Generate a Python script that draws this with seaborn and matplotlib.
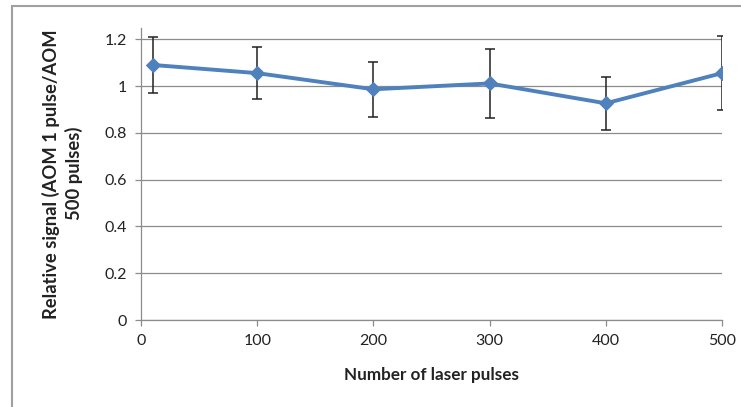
import matplotlib
matplotlib.use("Agg")
import matplotlib.pyplot as plt
import seaborn as sns
import pandas as pd
import numpy as np
from matplotlib.patches import Rectangle

pulses = [10, 100, 200, 300, 400, 500]
signal = [1.09, 1.055, 0.986, 1.011, 0.926, 1.055]
err_upper = [1.21, 1.167, 1.101, 1.157, 1.038, 1.213]
err_lower = [0.969, 0.944, 0.869, 0.862, 0.812, 0.897]
x_ticks = [0, 100, 200, 300, 400, 500]
y_ticks = [0, 0.2, 0.4, 0.6, 0.8, 1, 1.2]
y_tick_labels = ["0", "0.2", "0.4", "0.6", "0.8", "1", "1.2"]

sns.set_theme(style="white")
plt.rcParams['font.family'] = ['Lato', 'DejaVu Sans']

df = pd.DataFrame({"pulses": pulses, "signal": signal})

fig = plt.figure(figsize=(7.41, 4.07), dpi=100)
ax = fig.add_axes([141/741, 87/407, (722-141)/741, (379.5-87)/407])

blue = "#4F81BD"
sig = np.array(signal)
yerr = np.vstack([sig - np.array(err_lower), np.array(err_upper) - sig])
ax.errorbar(pulses, signal, yerr=yerr, fmt="none", ecolor="#222222",
            elinewidth=1.1, capsize=3.5, capthick=1.1, zorder=3)
sns.lineplot(data=df, x="pulses", y="signal", ax=ax, color=blue, linewidth=2.8,
             marker="D", markersize=7.5, markeredgecolor=blue, zorder=4)

ax.set_xlim(0, 500)
ax.set_ylim(0, 1.25)
ax.set_xticks(x_ticks)
ax.set_xticklabels([str(v) for v in x_ticks])
ax.set_yticks(y_ticks)
ax.set_yticklabels(y_tick_labels)
ax.grid(axis="y", color="#8c8c8c", linewidth=0.9)
ax.grid(axis="x", visible=False)
ax.set_axisbelow(True)

for s in ["top", "right"]:
    ax.spines[s].set_visible(False)
for s in ["left", "bottom"]:
    ax.spines[s].set_color("#8c8c8c")
    ax.spines[s].set_linewidth(0.9)

ax.tick_params(axis="both", which="major", length=4, width=0.9, color="#8c8c8c",
               direction="out", labelsize=11.5, labelcolor="#222222", pad=6,
               bottom=True, left=True)

ax.set_xlabel("Number of laser pulses", fontsize=12.3, fontweight="bold",
              color="#222222", labelpad=14)
ax.set_ylabel("Relative signal (AOM 1 pulse/AOM\n500 pulses)", fontsize=13.2,
              fontweight="bold", color="#222222", linespacing=1.3)
ax.yaxis.set_label_coords(-0.100, 0.5)

fig.patches.append(Rectangle((12/741, -0.05), 1.0, (407-6)/407 + 0.05,
                             transform=fig.transFigure, fill=False,
                             edgecolor="#a0a0a0", linewidth=1.5))

fig.savefig("out.png", dpi=100)
